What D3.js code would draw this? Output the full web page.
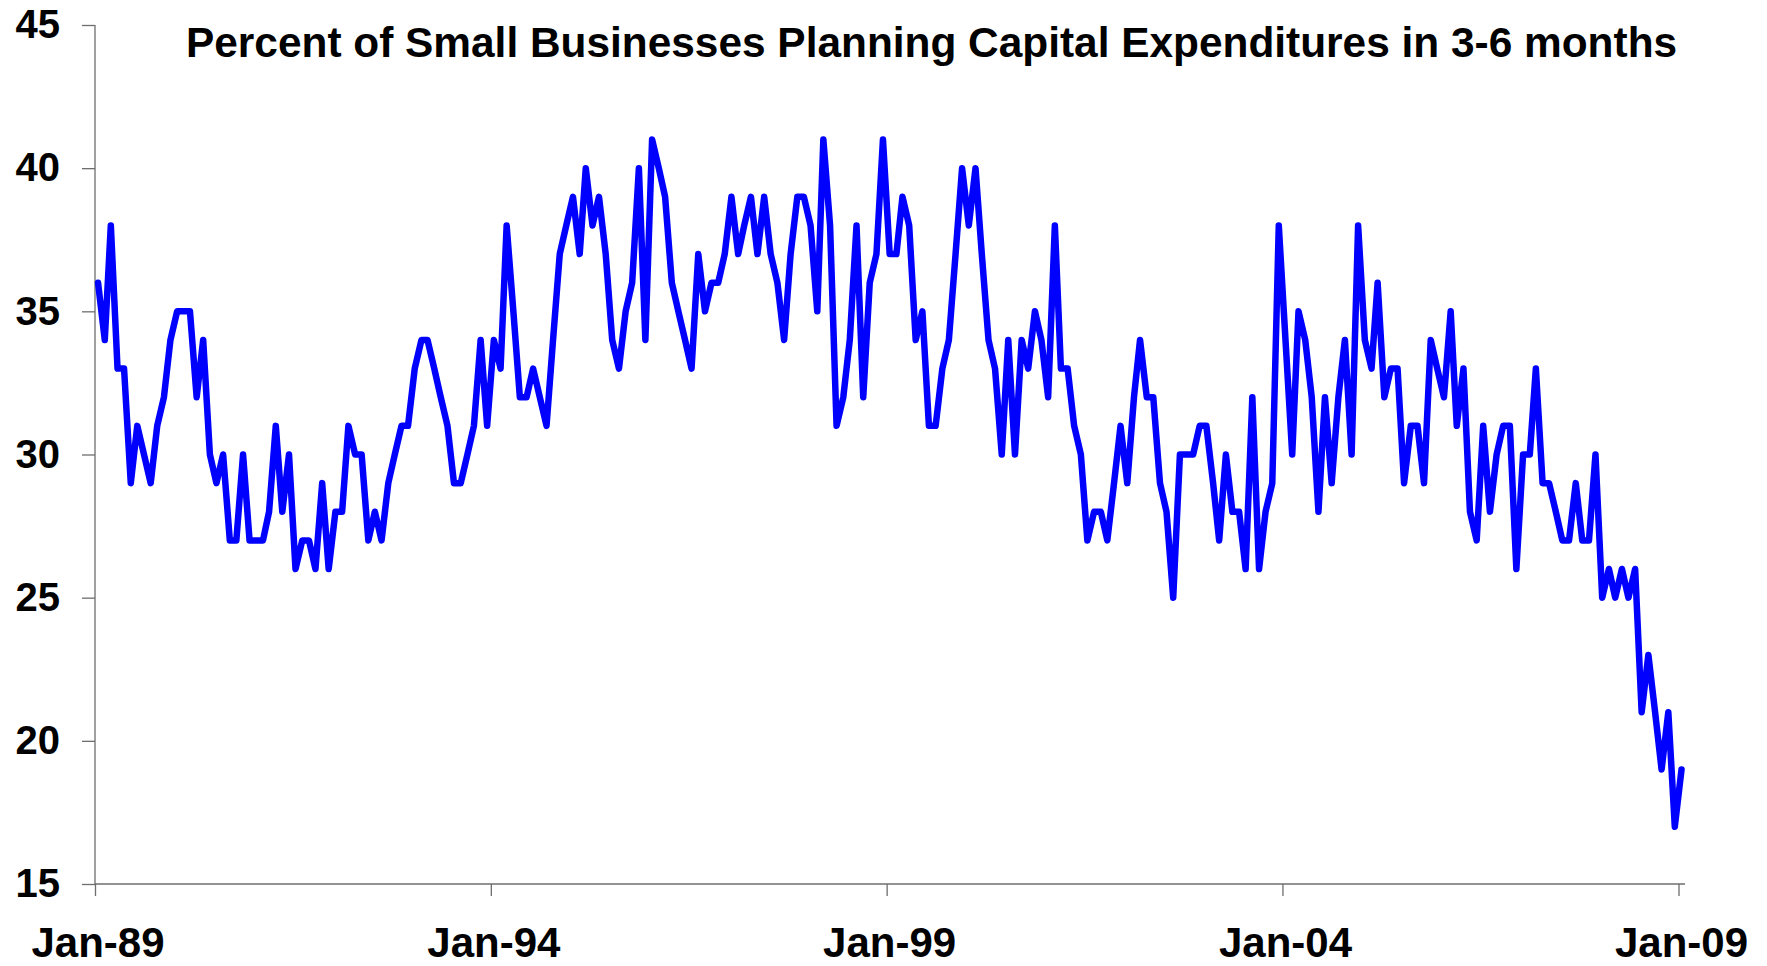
<!DOCTYPE html>
<html>
<head>
<meta charset="utf-8">
<script src="https://cdn.jsdelivr.net/npm/d3@7"></script>
<style>
  body { margin: 0; background: #fff; }
  svg text { font-family: Arial, "Liberation Sans", sans-serif; font-weight: bold; fill: #000; }
</style>
</head>
<body>
<svg id="chart" width="1767" height="966"></svg>
<script>
const chartTitle = 'Percent of Small Businesses Planning Capital Expenditures in 3-6 months';
const yTicks = [15, 20, 25, 30, 35, 40, 45];
const xTickYears = [1989, 1994, 1999, 2004, 2009];
const startYear = 1989;

// monthly readings, one row per year (Jan..Dec)
const pct1989to1993 = [
  36, 34, 38, 33, 33, 29, 31, 30, 29, 31, 32, 34,
  35, 35, 35, 32, 34, 30, 29, 30, 27, 27, 30, 27,
  27, 27, 28, 31, 28, 30, 26, 27, 27, 26, 29, 26,
  28, 28, 31, 30, 30, 27, 28, 27, 29, 30, 31, 31,
  33, 34, 34, 33, 32, 31, 29, 29, 30, 31, 34, 31,
];
const pct1994to1998 = [
  34, 33, 38, 35, 32, 32, 33, 32, 31, 34, 37, 38,
  39, 37, 40, 38, 39, 37, 34, 33, 35, 36, 40, 34,
  41, 40, 39, 36, 35, 34, 33, 37, 35, 36, 36, 37,
  39, 37, 38, 39, 37, 39, 37, 36, 34, 37, 39, 39,
  38, 35, 41, 38, 31, 32, 34, 38, 32, 36, 37, 41,
];
const pct1999to2003 = [
  37, 37, 39, 38, 34, 35, 31, 31, 33, 34, 37, 40,
  38, 40, 37, 34, 33, 30, 34, 30, 34, 33, 35, 34,
  32, 38, 33, 33, 31, 30, 27, 28, 28, 27, 29, 31,
  29, 32, 34, 32, 32, 29, 28, 25, 30, 30, 30, 31,
  31, 29, 27, 30, 28, 28, 26, 32, 26, 28, 29, 38,
];
const pct2004to2008 = [
  34, 30, 35, 34, 32, 28, 32, 29, 32, 34, 30, 38,
  34, 33, 36, 32, 33, 33, 29, 31, 31, 29, 34, 33,
  32, 35, 31, 33, 28, 27, 31, 28, 30, 31, 31, 26,
  30, 30, 33, 29, 29, 28, 27, 27, 29, 27, 27, 30,
  25, 26, 25, 26, 25, 26, 21, 23, 21, 19, 21, 17,
];
const pct2009 = [19];

const values = [].concat(pct1989to1993, pct1994to1998, pct1999to2003, pct2004to2008, pct2009);
const series = values.map((v, i) => ({ date: new Date(startYear, i, 15), value: v }));

const svg = d3.select('#chart');

const x = d3.scaleTime()
  .domain([new Date(1989, 0, 1), new Date(2009, 0, 1)])
  .range([95, 1678.5]);
const y = d3.scaleLinear()
  .domain([15, 45])
  .range([884, 25]);

const axisColor = '#6e6e6e';

// y axis
const yAxis = svg.append('g')
  .attr('transform', 'translate(95,0)')
  .call(d3.axisLeft(y).tickValues(yTicks).tickSize(13).tickPadding(22));
yAxis.select('.domain').remove();
yAxis.selectAll('line').attr('stroke', axisColor).attr('stroke-width', 1.3);
yAxis.selectAll('text').style('font-size', '40px');

// x axis
const xAxis = svg.append('g')
  .attr('transform', 'translate(0,884)')
  .call(d3.axisBottom(x)
    .tickValues(xTickYears.map(yr => new Date(yr, 0, 1)))
    .tickFormat(d3.timeFormat('%b-%y'))
    .tickSize(12)
    .tickPadding(31));
xAxis.select('.domain').remove();
xAxis.selectAll('line').attr('stroke', axisColor).attr('stroke-width', 1.3);
xAxis.selectAll('text').style('font-size', '42px').attr('dx', 2.5);

// axis lines
svg.append('line')
  .attr('x1', 95).attr('x2', 95)
  .attr('y1', y(45)).attr('y2', y(15))
  .attr('stroke', axisColor).attr('stroke-width', 1.3);
svg.append('line')
  .attr('x1', 95).attr('x2', 1685)
  .attr('y1', y(15)).attr('y2', y(15))
  .attr('stroke', axisColor).attr('stroke-width', 1.3);

// data line
const line = d3.line()
  .x(d => x(d.date))
  .y(d => y(d.value));

svg.append('path')
  .datum(series)
  .attr('d', line)
  .attr('fill', 'none')
  .attr('stroke', '#0000ff')
  .attr('stroke-width', 6.5)
  .attr('stroke-linejoin', 'round')
  .attr('stroke-linecap', 'round');

// title
svg.append('text')
  .attr('x', 186)
  .attr('y', 57)
  .style('font-size', '42.4px')
  .text(chartTitle);
</script>
</body>
</html>
